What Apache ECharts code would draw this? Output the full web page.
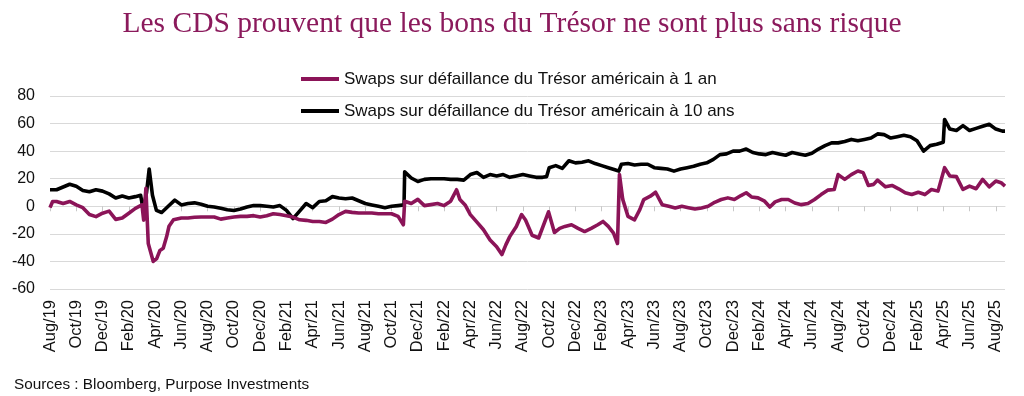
<!DOCTYPE html>
<html>
<head>
<meta charset="utf-8">
<script src="https://cdn.jsdelivr.net/npm/echarts@6/dist/echarts.min.js"></script>
<style>
  html, body { margin: 0; padding: 0; background: #fff; }
  #chart { width: 1024px; height: 396px; }
</style>
</head>
<body>
<div id="chart"></div>
<script>
// x = months since Aug 2019 (0 = Aug/19), y = CDS spread
const oneYear = [
  [0, -1], [0.2, 3.5], [0.5, 3.5], [1, 2], [1.5, 3.5], [2, 1], [2.5, -1], [3, -6], [3.5, -7.5],
  [4, -5], [4.5, -3.5], [5, -9.5], [5.5, -8.5], [6, -5], [6.5, -1.5], [7, 1], [7.13, -10],
  [7.3, 13], [7.48, -27], [7.86, -40], [8.12, -38], [8.37, -32], [8.62, -30.5], [8.88, -22],
  [9.06, -14.5], [9.4, -9.8], [10, -8.5], [10.5, -8.5], [11, -8], [11.5, -7.8], [12, -7.8],
  [12.5, -7.8], [13, -9.3], [13.5, -8.5], [14, -7.8], [14.5, -7.3], [15, -7.3], [15.5, -6.8],
  [16, -7.8], [16.5, -6.8], [17, -5.4], [17.5, -6], [18, -6.8], [18.5, -7.8], [19, -9.8],
  [19.5, -10.2], [20, -11], [20.5, -11], [21, -11.7], [21.5, -9.3], [22, -6], [22.5, -3.7],
  [23, -4.4], [23.5, -4.9], [24, -4.9], [24.5, -4.9], [25, -5.4], [25.5, -5.4], [26, -5.4],
  [26.5, -7.3], [26.9, -13.4], [27, 3.7], [27.5, 2], [28, 5], [28.5, 0.5], [29, 1.2],
  [29.5, 2], [30, 0.5], [30.5, 3.7], [30.95, 12], [31.2, 5], [31.6, 1], [32, -6],
  [32.5, -11.5], [33, -17], [33.5, -24.4], [34, -29.3], [34.4, -35], [34.7, -28], [35, -22],
  [35.5, -14.6], [35.9, -6], [36.2, -10], [36.7, -21], [37.2, -23], [37.95, -4], [38.4, -19],
  [38.8, -16], [39.2, -14.6], [39.7, -13.4], [40.2, -16], [40.7, -18.3], [41.2, -16],
  [41.7, -13.4], [42.1, -11], [42.5, -14.6], [42.9, -19.5], [43.2, -27], [43.35, 23],
  [43.6, 5], [44, -7.3], [44.5, -9.8], [44.9, -2.4], [45.2, 4.9], [45.7, 7.3], [46.1, 10.2],
  [46.6, 1.2], [47.1, 0], [47.6, -1.2], [48.1, 0], [48.6, -1], [49.1, -2], [49.6, -1.2],
  [50.1, 0], [50.6, 2.9], [51.1, 4.9], [51.6, 6.1], [52.1, 4.9], [52.6, 7.8], [53, 9.8],
  [53.4, 6.8], [53.9, 6.1], [54.4, 3.7], [54.8, -0.5], [55.2, 3.2], [55.7, 4.9], [56.2, 4.9],
  [56.7, 2.4], [57.2, 1.2], [57.7, 2], [58.2, 4.9], [58.7, 8.5], [59.2, 11.7], [59.7, 12.2],
  [60, 23], [60.5, 19.5], [61, 23], [61.5, 25.6], [61.9, 24.4], [62.3, 15.1], [62.7, 15.9],
  [63, 19], [63.6, 14.1], [64.1, 15.1], [64.6, 12.7], [65.1, 9.8], [65.6, 8.5], [66.1, 10.2],
  [66.6, 8.5], [67.1, 12.2], [67.6, 11], [68.1, 28], [68.5, 22], [69, 21.5], [69.5, 12.2],
  [70, 14.6], [70.5, 12.7], [71, 19.5], [71.5, 14.1], [72, 18.3], [72.4, 17.1], [72.7, 14.6]
];

const tenYear = [
  [0, 12], [0.5, 12], [1, 14], [1.5, 16], [2, 14.5], [2.5, 11.5], [3, 10.5], [3.5, 12],
  [4, 11], [4.5, 9], [5, 6], [5.5, 7.5], [6, 6], [6.5, 7], [6.9, 8], [7.1, -3], [7.35, 10],
  [7.55, 27], [7.8, 8], [8.1, -3], [8.5, -4.5], [9, 0], [9.5, 4.5], [10, 1], [10.5, 2],
  [11, 2.5], [11.5, 1.5], [12, 0], [12.5, -0.5], [13, -1.5], [13.5, -2.5], [14, -3],
  [14.5, -2], [15, -0.5], [15.5, 0.5], [16, 0.5], [16.5, 0], [17, -0.5], [17.5, 0.5],
  [18, -3], [18.5, -9], [19, -3.5], [19.5, 2], [20, -1], [20.5, 3.5], [21, 4], [21.5, 7],
  [22, 6], [22.5, 5.5], [23, 6], [23.5, 4], [24, 2], [24.5, 1], [25, 0], [25.5, -1], [26, 0],
  [26.5, 0.5], [26.95, 1], [27, 25], [27.5, 20.5], [28, 18], [28.5, 19.5], [29, 20],
  [29.5, 20], [30, 20], [30.5, 19.5], [31, 19.5], [31.5, 19], [32, 23], [32.5, 24.5],
  [33, 21], [33.5, 23], [34, 22], [34.5, 23], [35, 21], [35.5, 22], [36, 23], [36.5, 22],
  [37, 21], [37.5, 21], [37.8, 21.5], [38, 28], [38.5, 29.5], [39, 27.5], [39.5, 33],
  [40, 31.5], [40.5, 32], [41, 33], [41.5, 31], [42, 29.5], [42.5, 28], [43, 26.5],
  [43.3, 25.5], [43.5, 30.5], [44, 31], [44.5, 30], [45, 30.5], [45.5, 30.5], [46, 28],
  [46.5, 27.5], [47, 27], [47.5, 25.5], [48, 27], [48.5, 28], [49, 29], [49.5, 30.5],
  [50, 31.5], [50.5, 34], [51, 37.5], [51.5, 38], [52, 40], [52.5, 40], [53, 41.5],
  [53.5, 39], [54, 38], [54.5, 37.5], [55, 39], [55.5, 38], [56, 37], [56.5, 39], [57, 38],
  [57.5, 37], [58, 38.5], [58.5, 41.5], [59, 44], [59.5, 46], [60, 46], [60.5, 47],
  [61, 48.5], [61.5, 47.5], [62, 48.5], [62.5, 49.5], [63, 52.5], [63.5, 52], [64, 49.5],
  [64.5, 50.5], [65, 51.5], [65.5, 50.5], [66, 47.5], [66.5, 40], [67, 44], [67.5, 45],
  [68, 46.5], [68.1, 63], [68.5, 56], [69, 55], [69.5, 58.5], [70, 55], [70.5, 56.5],
  [71, 58], [71.5, 59.5], [72, 56], [72.5, 54.5], [72.7, 54.5]
];

const tickLabels = [
  'Aug/19', 'Oct/19', 'Dec/19', 'Feb/20', 'Apr/20', 'Jun/20', 'Aug/20', 'Oct/20', 'Dec/20',
  'Feb/21', 'Apr/21', 'Jun/21', 'Aug/21', 'Oct/21', 'Dec/21', 'Feb/22', 'Apr/22', 'Jun/22',
  'Aug/22', 'Oct/22', 'Dec/22', 'Feb/23', 'Apr/23', 'Jun/23', 'Aug/23', 'Oct/23', 'Dec/23',
  'Feb/24', 'Apr/24', 'Jun/24', 'Aug/24', 'Oct/24', 'Dec/24', 'Feb/25', 'Apr/25', 'Jun/25',
  'Aug/25'
];

const name1 = 'Swaps sur défaillance du Trésor américain à 1 an';
const name10 = 'Swaps sur défaillance du Trésor américain à 10 ans';

const tickValues = tickLabels.map((_, i) => i * 2);
const font = 'Liberation Sans, Arial, sans-serif';

const chart = echarts.init(document.getElementById('chart'));

chart.setOption({
  animation: false,
  title: [
    {
      text: 'Les CDS prouvent que les bons du Trésor ne sont plus sans risque',
      left: 'center',
      top: 4,
      textStyle: { fontFamily: 'Liberation Serif, Times New Roman, serif', fontSize: 29.5, fontWeight: 'normal', color: '#8b1a5c' }
    },
    {
      text: 'Sources : Bloomberg, Purpose Investments',
      left: 9,
      top: 372,
      textStyle: { fontFamily: font, fontSize: 15.3, fontWeight: 'normal', color: '#111' }
    }
  ],
  legend: {
    data: [name1, name10],
    orient: 'vertical',
    left: 296,
    top: 64,
    icon: 'rect',
    itemWidth: 38,
    itemHeight: 4,
    itemGap: 12,
    textStyle: { fontFamily: font, fontSize: 17, lineHeight: 20, color: '#111' }
  },
  grid: { left: 50, right: 19, top: 96, bottom: 107 },
  xAxis: [
    {
      type: 'value',
      min: 0,
      max: 72.7,
      position: 'bottom',
      axisLine: { show: false, onZero: false },
      axisTick: { show: false },
      splitLine: { show: false },
      axisLabel: {
        rotate: 90,
        margin: 11,
        fontFamily: font,
        fontSize: 16.5,
        color: '#111',
        customValues: tickValues,
        formatter: (v) => tickLabels[Math.round(v / 2)] || ''
      }
    },
    {
      type: 'value',
      min: 0,
      max: 72.7,
      position: 'top',
      axisLine: { show: true, onZero: true, lineStyle: { color: '#d9d9d9', width: 1 } },
      axisTick: { show: true, inside: true, length: 5, customValues: tickValues, lineStyle: { color: '#c8c8c8' } },
      axisLabel: { show: false },
      splitLine: { show: false }
    }
  ],
  yAxis: {
    type: 'value',
    min: -60,
    max: 80,
    interval: 20,
    axisLine: { show: false },
    axisTick: { show: false },
    axisLabel: { fontFamily: font, fontSize: 16, color: '#111', margin: 15 },
    splitLine: { lineStyle: { color: '#d9d9d9', width: 1 } }
  },
  series: [
    {
      name: name10,
      type: 'line',
      xAxisIndex: 0,
      data: tenYear,
      showSymbol: false,
      z: 2,
      color: '#000000',
      lineStyle: { width: 3.6, color: '#000000', join: 'round' }
    },
    {
      name: name1,
      type: 'line',
      xAxisIndex: 0,
      data: oneYear,
      showSymbol: false,
      z: 3,
      color: '#8b1458',
      lineStyle: { width: 3.6, color: '#8b1458', join: 'round' }
    }
  ]
});
</script>
</body>
</html>
